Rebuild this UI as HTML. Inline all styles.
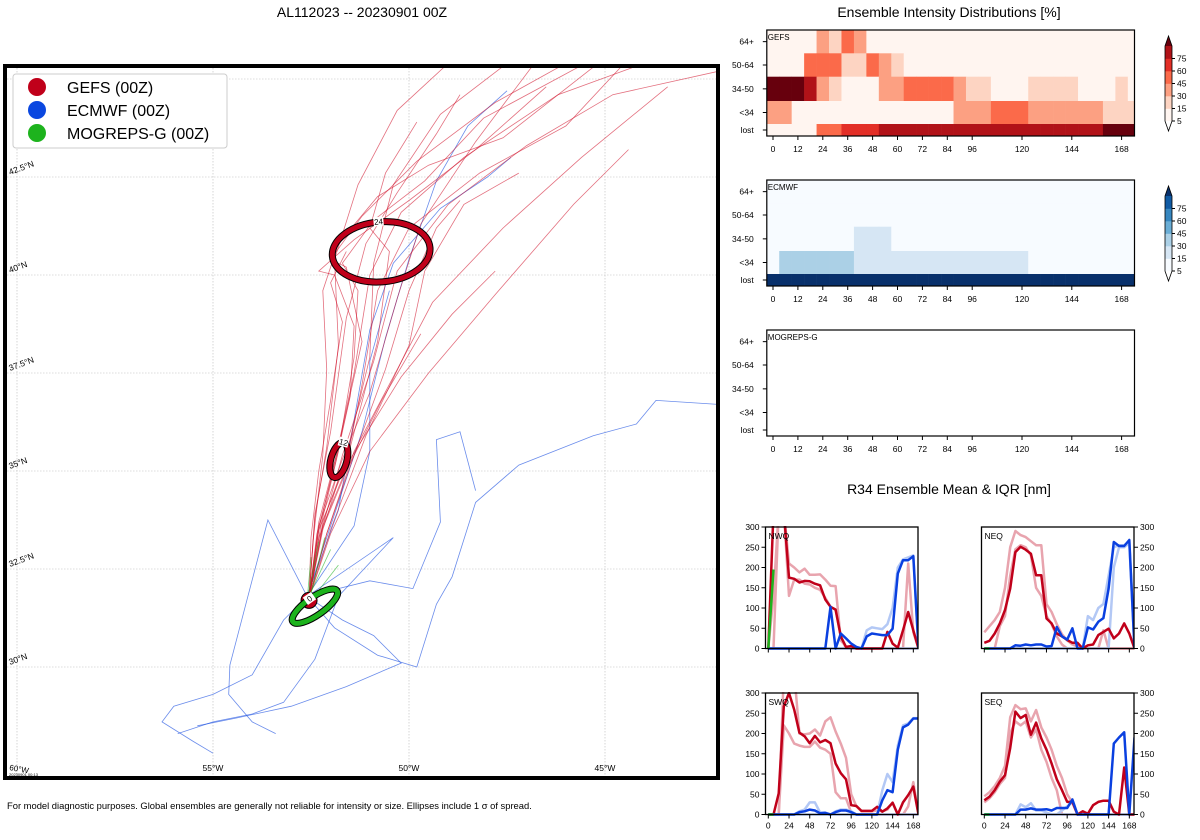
<!DOCTYPE html>
<html><head><meta charset="utf-8">
<style>
html,body{margin:0;padding:0;background:#fff;}
svg{display:block;font-family:"Liberation Sans","DejaVu Sans",sans-serif;}
</style></head>
<body>
<svg id="fig" width="1200" height="840" viewBox="0 0 1200 840" xmlns="http://www.w3.org/2000/svg">
<defs>
<clipPath id="mapclip"><rect x="7" y="68" width="709" height="708"/></clipPath>
<clipPath id="c-nwq"><rect x="765.5" y="526" width="153" height="124"/></clipPath>
<clipPath id="c-neq"><rect x="981.5" y="526" width="153" height="124"/></clipPath>
<clipPath id="c-swq"><rect x="765.5" y="692" width="153" height="124"/></clipPath>
<clipPath id="c-seq"><rect x="981.5" y="692" width="153" height="124"/></clipPath>
</defs>
<text x="362" y="17" font-size="14" text-anchor="middle">AL112023 -- 20230901 00Z</text>
<text x="949" y="17" font-size="14" text-anchor="middle">Ensemble Intensity Distributions [%]</text>
<text x="949" y="494" font-size="14" text-anchor="middle">R34 Ensemble Mean &amp; IQR [nm]</text>
<text x="7" y="809" font-size="9.4">For model diagnostic purposes. Global ensembles are generally not reliable for intensity or size. Ellipses include 1 σ of spread.</text>
<g id="map"></g>
<g id="heat"></g>
<g id="r34"></g>
</svg>
<script>
// ---------- data ----------
const heatTimes=[0,6,12,18,24,30,36,42,48,54,60,66,72,78,84,90,96,102,108,114,120,126,132,138,144,150,156,162,168,174];
const heatRows=["64+","50-64","34-50","<34","lost"];
const heatTicks=[0,12,24,36,48,60,72,84,96,120,144,168];
const gefs64=[0,0,0,0,2,1,3,2,0,0,0,0,0,0,0,0,0,0,0,0,0,0,0,0,0,0,0,0,0,0];
const gefs50=[0,0,0,3,3,3,1,1,3,2,1,0,0,0,0,0,0,0,0,0,0,0,0,0,0,0,0,0,0,0];
const gefs34=[6,6,6,5,2,1,0,0,0,2,2,3,3,3,3,2,1,1,0,0,0,1,1,1,1,0,0,0,1,0];
const gefsTS=[2,2,0,0,0,0,0,0,0,0,0,0,0,0,0,2,2,2,3,3,3,2,2,2,2,2,2,1,1,1];
const gefsLost=[0,0,0,0,3,3,4,4,4,5,5,5,5,5,5,5,5,5,5,5,5,5,5,5,5,5,5,6,6,6];
const ecm64=[0,0,0,0,0,0,0,0,0,0,0,0,0,0,0,0,0,0,0,0,0,0,0,0,0,0,0,0,0,0];
const ecm50=[0,0,0,0,0,0,0,0,0,0,0,0,0,0,0,0,0,0,0,0,0,0,0,0,0,0,0,0,0,0];
const ecm34=[0,0,0,0,0,0,0,1,1,1,0,0,0,0,0,0,0,0,0,0,0,0,0,0,0,0,0,0,0,0];
const ecmTS=[0,2,2,2,2,2,2,1,1,1,1,1,1,1,1,1,1,1,1,1,1,0,0,0,0,0,0,0,0,0];
const ecmLost=[6,6,6,6,6,6,6,6,6,6,6,6,6,6,6,6,6,6,6,6,6,6,6,6,6,6,6,6,6,6];
const cbTicks=[5,15,30,45,60,75];

const r34Times=[0,6,12,18,24,30,36,42,48,54,60,66,72,78,84,90,96,102,108,114,120,126,132,138,144,150,156,162,168,174];
const r34YTicks=[0,50,100,150,200,250,300];
const r34XTicks=[0,24,48,72,96,120,144,168];
// NWQ
const nwqGefsMean=[0,340,340,340,175,172,163,167,166,160,156,121,103,96,30,4,6,0,0,0,0,0,0,41,12,2,45,90,45,0];
const nwqGefsHi=[0,130,340,340,210,200,188,197,182,182,183,170,155,154,20,5,0,0,0,0,0,0,0,0,0,0,0,210,40,0];
const nwqGefsLo=[0,0,340,340,130,170,170,160,158,150,145,125,103,96,30,0,0,0,0,0,0,0,0,0,0,0,0,0,0,0];
const nwqEcMean=[0,0,0,0,0,0,0,0,0,0,0,0,103,0,37,25,12,4,0,30,37,35,33,33,49,185,218,218,228,0];
const nwqEcHi=[0,0,0,0,0,0,0,0,0,0,0,0,0,0,0,0,0,0,0,45,52,50,48,60,100,200,220,225,230,0];
const nwqEcLo=[0,0,0,0,0,0,0,0,0,0,0,0,0,0,0,0,0,0,0,0,0,0,0,0,0,0,0,0,0,0];
const nwqMog=[0,195];
// NEQ
const neqGefsMean=[14,19,37,62,95,148,238,251,244,234,181,181,74,62,37,30,21,14,14,0,8,10,33,41,49,25,37,62,37,0];
const neqGefsHi=[40,55,70,90,150,250,290,280,275,265,255,255,110,90,60,35,20,10,5,0,0,0,0,0,0,0,0,0,0,0];
const neqGefsLo=[0,0,0,55,80,180,245,255,250,230,150,130,80,60,30,10,0,0,0,0,0,0,0,45,0,0,0,0,0,0];
const neqEcMean=[0,0,0,0,0,0,8,7,10,8,10,10,5,6,53,30,22,50,0,0,52,47,66,75,148,263,253,253,268,0];
const neqEcHi=[0,0,0,0,0,0,0,0,0,0,0,0,0,0,0,0,0,0,0,0,80,70,100,110,180,250,255,255,265,0];
const neqEcLo=[0,0,0,0,0,0,0,0,0,0,0,0,0,0,0,0,0,0,0,0,0,0,0,0,0,200,250,250,260,0];
const neqMog=[0,0];
// SWQ
const swqGefsMean=[0,0,52,267,300,259,202,193,176,194,178,184,176,126,102,87,23,21,9,9,9,19,7,15,29,0,30,48,69,0];
const swqGefsHi=[0,0,0,350,350,350,200,198,200,210,195,230,240,205,175,140,50,20,8,8,8,10,8,12,30,0,0,20,80,0];
const swqGefsLo=[0,0,0,220,200,175,170,167,167,180,165,160,150,55,40,40,5,0,0,0,0,0,0,0,0,0,0,0,0,0];
const swqEcMean=[0,0,0,0,0,0,6,8,12,10,3,4,0,6,10,10,6,0,0,0,0,0,35,60,55,160,215,222,237,237];
const swqEcHi=[0,0,0,0,0,0,8,12,30,30,5,5,0,8,12,12,8,0,0,0,0,0,60,100,80,170,220,225,238,238];
const swqEcLo=[0,0,0,0,0,0,0,0,0,0,0,0,0,0,0,0,0,0,0,0,0,0,0,0,0,0,0,0,0,0];
const swqMog=[0,0];
// SEQ
const seqGefsMean=[35,44,60,81,97,164,254,238,246,197,227,188,160,126,87,60,31,31,0,8,2,23,31,34,34,7,0,116,0,0];
const seqGefsHi=[45,55,70,90,120,240,270,260,262,230,258,215,190,160,120,90,50,30,0,0,0,0,0,0,0,0,0,0,0,0];
const seqGefsLo=[30,40,55,75,90,200,230,220,230,190,210,160,130,90,60,0,0,0,0,0,0,0,0,0,0,0,0,0,0,0];
const seqEcMean=[0,0,0,0,0,0,0,12,12,15,12,12,13,10,16,16,16,37,0,0,0,0,0,0,0,175,190,203,0,190];
const seqEcHi=[0,0,0,0,0,0,0,25,18,28,10,10,5,0,0,10,20,30,0,0,0,0,0,0,0,0,0,0,0,0];
const seqEcLo=[0,0,0,0,0,0,0,0,0,0,0,0,0,0,0,0,0,0,0,0,0,0,0,0,0,0,0,0,0,0];
const seqMog=[0,0];

// map tracks (lon, lat)
const gefsTracks=[
[[-52.55,31.75],[-52.3,33.5],[-51.9,35.2],[-51.4,37.5],[-51.0,40.0],[-50.2,41.6],[-48.6,43.0],[-46.2,44.6],[-44.0,45.4]],
[[-52.55,31.75],[-52.2,33.6],[-51.7,35.4],[-50.9,37.8],[-50.3,40.1],[-49.0,41.8],[-47.0,43.3],[-44.8,44.6],[-42.1,45.2]],
[[-52.55,31.75],[-52.4,33.8],[-52.1,35.6],[-51.8,38.2],[-51.9,40.4],[-51.3,42.3],[-50.3,44.2],[-49.0,45.4]],
[[-52.55,31.75],[-52.1,33.4],[-51.4,35.5],[-50.4,37.4],[-49.4,39.3],[-47.6,41.2],[-45.6,43.0],[-43.4,44.8]],
[[-52.55,31.75],[-52.3,33.7],[-51.8,35.6],[-51.2,38.3],[-51.6,40.2],[-52.0,40.4],[-51.2,41.5],[-49.8,42.9],[-47.8,44.4],[-46.0,45.4]],
[[-52.55,31.75],[-52.0,33.5],[-51.1,35.9],[-50.0,38.2],[-49.6,40.1],[-48.6,41.8],[-47.2,42.6]],
[[-52.55,31.75],[-52.3,33.3],[-51.6,35.0],[-50.7,36.8],[-49.7,38.5]],
[[-52.55,31.75],[-52.4,33.9],[-52.0,36.0],[-51.6,38.9],[-51.1,40.8],[-50.3,42.1],[-49.3,43.6],[-48.7,44.6]],
[[-52.55,31.75],[-52.2,33.6],[-51.5,35.3],[-50.2,37.4],[-48.9,39.0],[-47.8,40.1]],
[[-52.55,31.75],[-52.3,33.5],[-51.6,35.2],[-51.2,37.2],[-50.8,39.6],[-50.0,41.2],[-48.2,42.6],[-46.0,43.8],[-44.6,45.3]],
[[-52.55,31.75],[-52.45,33.2],[-52.2,35.4],[-52.1,37.6],[-52.2,39.6],[-51.8,40.8],[-50.8,42.0],[-49.5,42.8],[-47.6,43.5],[-45.3,45.3]],
[[-52.55,31.75],[-52.2,33.7],[-51.5,35.6],[-50.8,38.3],[-50.5,40.6],[-51.0,41.2],[-50.6,42.6],[-49.8,43.9]],
[[-52.55,31.75],[-52.0,33.4],[-51.0,35.5],[-49.5,37.5],[-47.8,39.5],[-45.8,41.8],[-44.4,43.2]],
[[-52.55,31.75],[-52.3,33.6],[-51.7,35.3],[-51.0,37.0],[-50.3,39.4],[-49.7,41.3],[-48.3,43.4],[-46.8,45.4]],
[[-52.55,31.75],[-52.5,33.3],[-52.3,35.0],[-52.0,36.8],[-51.7,38.8],[-52.0,39.8],[-51.6,40.6]],
[[-52.55,31.75],[-52.2,33.5],[-51.6,35.4],[-51.0,37.9],[-50.9,40.3],[-50.4,42.3],[-49.2,44.1],[-47.5,45.4]],
[[-52.55,31.75],[-52.1,33.4],[-51.4,35.4],[-50.6,37.6],[-50.0,39.6],[-49.3,41.2],[-48.7,41.9]],
[[-52.55,31.75],[-52.35,33.4],[-51.9,35.1],[-51.5,36.9],[-51.4,38.7],[-51.9,40.0],[-52.3,40.1],[-51.4,40.9],[-50.0,41.9],[-48.3,43.2],[-46.5,44.8]],
[[-52.55,31.75],[-52.25,33.6],[-51.8,35.5],[-51.4,37.9],[-51.3,39.6],[-51.7,40.3],[-50.9,41.4],[-49.6,42.4],[-48.1,44.0],[-45.5,45.4]]
];
const ecmwfTracks=[
[[-52.6,31.8],[-52.0,33.6],[-51.2,36.0],[-50.6,38.4],[-50.0,40.4],[-49.3,42.4],[-48.5,43.8],[-47.5,44.7]],
[[-52.6,31.8],[-51.8,34.0],[-51.4,36.3],[-51.0,38.6],[-50.4,40.3],[-49.2,41.7],[-48.0,42.5],[-47.4,43.0]],
[[-52.6,31.8],[-51.9,31.0],[-50.8,30.3],[-49.8,30.0],[-49.3,31.6],[-48.9,32.3],[-48.3,34.2],[-47.2,35.15],[-45.3,35.9],[-44.2,36.2],[-43.7,36.8],[-42.1,36.7]],
[[-52.6,31.8],[-51.4,33.6],[-51.0,35.5],[-51.0,37.8],[-50.5,39.6]],
[[-52.6,31.8],[-50.4,33.3],[-51.8,31.8],[-52.4,30.2],[-53.2,29.1],[-54.0,28.8],[-55.0,28.6],[-55.9,28.3]],
[[-52.6,31.8],[-53.6,33.75],[-54.57,30.05],[-54.6,29.3],[-54.0,28.6],[-53.4,28.3]],
[[-52.6,31.8],[-51.0,32.2],[-49.9,32.0],[-49.2,33.7],[-49.3,35.8],[-48.7,36.0],[-48.3,34.5]],
[[-52.6,31.8],[-53.2,31.2],[-54.0,29.8],[-55.0,29.3],[-56.0,29.0],[-56.3,28.6],[-55.5,28.1],[-55.0,27.8]],
[[-52.6,31.8],[-51.7,31.2],[-50.9,30.8],[-50.2,30.1],[-51.6,29.5],[-53.0,29.0],[-54.4,28.7],[-55.4,28.5]]
];
const mogTracks=[
[[-52.6,31.7],[-52.3,33.2]],[[-52.6,31.7],[-52.0,33.0]],[[-52.5,31.7],[-51.8,32.6]],[[-52.6,31.7],[-52.5,32.8]],[[-52.55,31.7],[-52.15,33.3]]
];
const latLines=[30,32.5,35,37.5,40,42.5,45];
const lonLines=[-60,-55,-50,-45];

// ---------- helpers ----------
const NS="http://www.w3.org/2000/svg";
function mk(tag,attrs,parent){const e=document.createElementNS(NS,tag);for(const k in attrs)e.setAttribute(k,attrs[k]);parent.appendChild(e);return e;}
const lonX=lon=>213+(lon+55)*39.2;
const latY=lat=>667-(lat-30)*39.2;

// ---------- map ----------
const map=document.getElementById('map');
const mapG=mk('g',{'clip-path':'url(#mapclip)'},map);
lonLines.forEach(l=>{const e=mk('line',{x1:lonX(l),x2:lonX(l),y1:68,y2:776,stroke:'#bbb','stroke-width':0.6,'stroke-dasharray':'1.5,1.5'},mapG);

});
latLines.forEach(l=>{const e=mk('line',{x1:7,x2:716,y1:latY(l),y2:latY(l),stroke:'#bbb','stroke-width':0.6,'stroke-dasharray':'1.5,1.5'},mapG);

});
function drawTracks(tracks,color,w,op,name){tracks.forEach(tr=>{const p=mk('polyline',{points:tr.map(q=>lonX(q[0]).toFixed(1)+','+latY(q[1]).toFixed(1)).join(' '),fill:'none',stroke:color,'stroke-width':w,opacity:op},mapG);

});}
drawTracks(ecmwfTracks,'#1a4fe0',0.8,0.65,'ecmwf-track');
drawTracks(gefsTracks,'#d0102a',0.8,0.6,'gefs-track');
drawTracks(mogTracks,'#1db31d',0.8,0.6,'mogreps-track');
function ell(cx,cy,rx,ry,rot,col,lbl,name){const g=mk('g',{transform:`translate(${cx},${cy}) rotate(${rot})`},mapG);


mk('ellipse',{cx:0,cy:0,rx:rx,ry:ry,fill:'none',stroke:'#000','stroke-width':7},g);
mk('ellipse',{cx:0,cy:0,rx:rx,ry:ry,fill:'none',stroke:col,'stroke-width':5},g);
if(lbl){mk('rect',{x:-5,y:-ry-5,width:10,height:9,fill:'#fff'},g);const t=mk('text',{x:0,y:-ry+2.5,'font-size':8,'text-anchor':'middle'},g);t.textContent=lbl;}}
ell(lonX(-50.71),latY(40.59),49,30,-5,'#c0001a','24','ellipse-24h');
ell(lonX(-51.79),latY(35.28),8,18,15,'#c0001a','12','ellipse-12h');
ell(lonX(-52.55),latY(31.7),5,5,0,'#c0001a','','ellipse-0h-gefs');
ell(lonX(-52.4),latY(31.55),27,9,-35,'#1db31d','0','ellipse-0h-mogreps');
const fr=mk('rect',{x:5,y:66,width:713,height:712,fill:'none',stroke:'#000','stroke-width':4},map);


[[30,'30°N'],[32.5,'32.5°N'],[35,'35°N'],[37.5,'37.5°N'],[40,'40°N'],[42.5,'42.5°N']].forEach(a=>{const t=mk('text',{x:10,y:latY(a[0])-2,'font-size':8.5,transform:`rotate(-20 10 ${latY(a[0])-2})`},map);t.textContent=a[1];

});
[[-55,'55°W'],[-50,'50°W'],[-45,'45°W']].forEach(a=>{const t=mk('text',{x:lonX(a[0]),y:771,'font-size':8.5,'text-anchor':'middle'},map);t.textContent=a[1];

});
{const t=mk('text',{x:9,y:770,'font-size':8,transform:'rotate(10 9 770)'},map);t.textContent='60°W';


const t2=mk('text',{x:9,y:776,'font-size':4},map);t2.textContent='20230901 00:13';

}
const lg=mk('g',{},map);


mk('rect',{x:13,y:74,width:214,height:74,rx:3,fill:'#fff',stroke:'#ccc','stroke-width':1},lg);
[['GEFS (00Z)','#c0001a'],['ECMWF (00Z)','#0a47e0'],['MOGREPS-G (00Z)','#1db31d']].forEach((a,i)=>{const g=mk('g',{},lg);


mk('circle',{cx:37,cy:87+i*23,r:9,fill:a[1]},g);const t=mk('text',{x:67,y:93+i*23,'font-size':16},g);t.textContent=a[0];});

// ---------- heatmaps ----------
const heat=document.getElementById('heat');
const reds=['#fff5f0','#fdd4c2','#fca082','#fb6a4a','#e32f27','#b11218','#67000d'];
const blues=['#f7fbff','#d6e6f4','#abd0e6','#6aaed6','#3787c0','#105ba4','#08306b'];
const hx=t=>773+t*2.075;
const rowEdges=[0,23.3,46.7,71,94,106];
function heatPanel(oy,rows,pal,label,name){const g=mk('g',{},heat);


const top=30+oy,L=766.8,R=1134.5;
mk('rect',{x:L,y:top,width:R-L,height:106,fill:rows?pal[0]:'#fff'},g);
if(rows){rows.forEach((arr,ri)=>{arr.forEach((lv,ci)=>{const x0=Math.max(L,hx(heatTimes[ci]-3)),x1=Math.min(R,hx(heatTimes[ci]+3));
const c=mk('rect',{x:x0,y:top+rowEdges[ri],width:Math.max(0,x1-x0+0.3),height:rowEdges[ri+1]-rowEdges[ri]+0.3,fill:pal[lv]},g);

});});}
mk('rect',{x:L,y:top,width:R-L,height:106,fill:'none',stroke:'#000','stroke-width':1.2},g);
const lt=mk('text',{x:L+1,y:top+10,'font-size':8},g);lt.textContent=label;
heatRows.forEach((r,ri)=>{const yc=top+(rowEdges[ri]+rowEdges[ri+1])/2;mk('line',{x1:L-4,x2:L,y1:yc,y2:yc,stroke:'#000'},g);
const t=mk('text',{x:L-13,y:yc+3,'font-size':8.5,'text-anchor':'end'},g);t.textContent=r;});
heatTicks.forEach(tk=>{mk('line',{x1:hx(tk),x2:hx(tk),y1:top+106,y2:top+110,stroke:'#000'},g);
const t=mk('text',{x:hx(tk),y:top+122,'font-size':8.5,'text-anchor':'middle'},g);t.textContent=tk;});}
heatPanel(0,[gefs64,gefs50,gefs34,gefsTS,gefsLost],reds,'GEFS','gefs-heatmap');
heatPanel(150,[ecm64,ecm50,ecm34,ecmTS,ecmLost],blues,'ECMWF','ecmwf-heatmap');
heatPanel(300,null,reds,'MOGREPS-G','mogreps-heatmap');
function colorbar(oy,pal,name){const g=mk('g',{},heat);


const x=1165,w=7,top=46+oy,bot=121+oy,h=(bot-top)/6;
for(let i=0;i<6;i++)mk('rect',{x:x,y:bot-(i+1)*h,width:w,height:h+0.3,fill:pal[i]},g);
mk('polygon',{points:`${x},${top} ${x+w},${top} ${x+w/2},${top-10}`,fill:pal[6]},g);
mk('polygon',{points:`${x},${bot} ${x+w},${bot} ${x+w/2},${bot+10}`,fill:'#fff'},g);
mk('polygon',{points:`${x},${top} ${x+w/2},${top-10} ${x+w},${top} ${x+w},${bot} ${x+w/2},${bot+10} ${x},${bot}`,fill:'none',stroke:'#000','stroke-width':0.8},g);
cbTicks.forEach((v,i)=>{const y=bot-i*h;mk('line',{x1:x+w,x2:x+w+3,y1:y,y2:y,stroke:'#000'},g);
const t=mk('text',{x:x+w+5,y:y+3,'font-size':8.5},g);t.textContent=v;});}
colorbar(0,reds,'gefs-colorbar');
colorbar(150,blues,'ecmwf-colorbar');

// ---------- R34 ----------
const r34=document.getElementById('r34');
function r34Panel(L,top,right,bottom,clip,label,mean,hi,lo,emean,ehi,elo,mog,name){
const g=mk('g',{},r34);


const W=152.5,H=121.5,x0=L+2.8,sx=0.8633;
const X=t=>x0+t*sx, Y=v=>top+H-v*H/300;
const cg=mk('g',{'clip-path':`url(#${clip})`},g);
function line(arr,col,w,op,nm){const p=mk('polyline',{points:arr.map((v,i)=>X(r34Times[i]).toFixed(1)+','+Y(v).toFixed(1)).join(' '),fill:'none',stroke:col,'stroke-width':w,opacity:op,'stroke-linejoin':'round'},cg);

}
line(hi,'#e8a4ae',2.5,1,'gefs-iqr-upper');line(lo,'#e8a4ae',2.5,1,'gefs-iqr-lower');
line(ehi,'#b3c8f5',2.5,1,'ecmwf-iqr-upper');line(elo,'#b3c8f5',2.5,1,'ecmwf-iqr-lower');
line(mean,'#c0001a',2.5,1,'gefs-mean');line(emean,'#0a40e0',2.5,1,'ecmwf-mean');
line(mog,'#1db31d',2.5,1,'mogreps-mean');
mk('rect',{x:L,y:top,width:W,height:H,fill:'none',stroke:'#000','stroke-width':1.3},g);
const lt=mk('text',{x:L+3,y:top+12,'font-size':8.5},g);lt.textContent=label;
r34YTicks.forEach(v=>{const y=Y(v);
if(!right){mk('line',{x1:L-4,x2:L,y1:y,y2:y,stroke:'#000'},g);const t=mk('text',{x:L-6,y:y+3,'font-size':8.5,'text-anchor':'end'},g);t.textContent=v;}
else{mk('line',{x1:L+W,x2:L+W+4,y1:y,y2:y,stroke:'#000'},g);const t=mk('text',{x:L+W+6,y:y+3,'font-size':8.5},g);t.textContent=v;}});
r34XTicks.forEach(tk=>{mk('line',{x1:X(tk),x2:X(tk),y1:top+H,y2:top+H+4,stroke:'#000'},g);
if(bottom){const t=mk('text',{x:X(tk),y:top+H+14,'font-size':8.5,'text-anchor':'middle'},g);t.textContent=tk;}});}
r34Panel(765.5,527,false,false,'c-nwq','NWQ',nwqGefsMean,nwqGefsHi,nwqGefsLo,nwqEcMean,nwqEcHi,nwqEcLo,nwqMog,'r34-nwq-panel');
r34Panel(981.5,527,true,false,'c-neq','NEQ',neqGefsMean,neqGefsHi,neqGefsLo,neqEcMean,neqEcHi,neqEcLo,neqMog,'r34-neq-panel');
r34Panel(765.5,693,false,true,'c-swq','SWQ',swqGefsMean,swqGefsHi,swqGefsLo,swqEcMean,swqEcHi,swqEcLo,swqMog,'r34-swq-panel');
r34Panel(981.5,693,true,true,'c-seq','SEQ',seqGefsMean,seqGefsHi,seqGefsLo,seqEcMean,seqEcHi,seqEcLo,seqMog,'r34-seq-panel');
</script>
</body></html>
